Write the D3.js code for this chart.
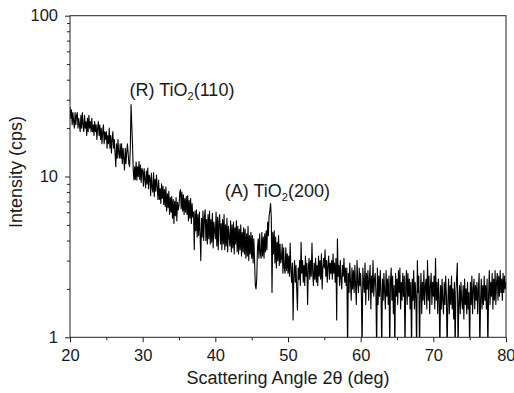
<!DOCTYPE html>
<html>
<head>
<meta charset="utf-8">
<script src="https://cdnjs.cloudflare.com/ajax/libs/d3/7.8.5/d3.min.js"></script>
<style>
  body { margin: 0; background: #fff; }
  text { font-family: "Liberation Sans", Arial, sans-serif; fill: #1a1a1a; }
</style>
</head>
<body>
<div id="chart"></div>
<script>
// sampling grid of the scan (deg)
const startAngle = 20;
const stepAngle = 0.1;

// intensity (cps), one row per degree
const intensityRows = [
  [27, 23, 26, 21, 25, 22, 20, 25, 21, 24],                // 20
  [25, 20, 23, 21, 19, 24, 20, 25, 21, 19],                // 21
  [24, 20, 22, 18, 23, 19, 24, 20, 22, 19],                // 22
  [23, 19, 21, 18, 22, 19, 21, 17, 20, 22],                // 23
  [18, 21, 17, 20, 16, 19, 21, 16, 19, 17],                // 24
  [19, 15, 18, 16, 20, 15, 18, 14, 17, 19],                // 25
  [15, 17, 14, 11.5, 16, 13, 17, 14, 13, 16],              // 26
  [13, 16, 12, 15, 13, 11, 15, 12, 14, 16],                // 27
  [14, 12, 11.5, 15, 28, 21, 16, 11, 9.5, 11.5],           // 28  rutile (110)
  [9.6, 12.3, 9.5, 11.5, 10, 12.4, 9.6, 11.8, 9.2, 11.2],  // 29
  [10.8, 8.7, 11.2, 9.6, 8.5, 10.8, 9, 11.3, 8.4, 10.2],   // 30
  [9.8, 7.6, 10.5, 8.5, 8, 10.6, 7.5, 9.6, 8.1, 10.2],     // 31
  [8.8, 7.2, 9.5, 7.2, 8.4, 6.8, 9, 7.3, 8.7, 6.7],        // 32
  [8.3, 6.5, 8.6, 6.1, 7.8, 6.4, 8.1, 5.8, 7.4, 6],        // 33
  [7.5, 5.5, 7.2, 5.1, 7, 5.7, 7.4, 5.3, 6.9, 6.2],        // 34
  [6.6, 7.9, 8.3, 6.3, 8, 6.1, 7.7, 5.8, 7.3, 6],          // 35
  [7.5, 5.8, 7.6, 5.3, 7.1, 5.5, 7.3, 5.1, 6.8, 5.6],      // 36
  [6, 3.5, 6.1, 4.6, 6.2, 4.2, 5.8, 4.3, 6, 4.4],          // 37
  [3.0, 5.5, 4.2, 6.1, 4, 5.6, 6.2, 4, 5.4, 3.8],          // 38
  [5.8, 4.1, 6.1, 3.8, 5.4, 3.9, 5.9, 3.6, 5.2, 4.6],      // 39
  [4.1, 6, 3.7, 5.6, 3.5, 5.3, 5.8, 3.8, 5.1, 3.5],        // 40
  [5.4, 3.8, 5.8, 3.5, 5, 3.7, 5.5, 3.4, 4.9, 4.2],        // 41
  [3.7, 5.3, 3.4, 5, 3.6, 5.2, 3.3, 4.8, 3.8, 5.3],        // 42
  [3.4, 4.9, 3.3, 4.7, 3.5, 5, 3.2, 4.5, 3.4, 4.8],        // 43
  [3.3, 4.7, 3.1, 4.4, 3.2, 4.9, 3, 4.3, 3.3, 4.5],        // 44
  [3.1, 4.3, 2.9, 4.1, 3.0, 2.1, 2.0, 2.3, 3.6, 4.1],      // 45
  [3.1, 4.4, 3.3, 3.1, 4.5, 3.2, 4.2, 3.1, 4.4, 3.4],      // 46
  [4.6, 3.5, 5.2, 4.3, 5.7, 6.1, 6.8, 5.6, 1.9, 4.5],      // 47  anatase (200)
  [3.3, 4.6, 2.9, 4.2, 2.7, 3.9, 3, 4.3, 2.8, 3.8],        // 48
  [2.9, 3.1, 3.8, 2.5, 3.6, 2.7, 2.5, 3.6, 2.6, 3.3],      // 49
  [2.5, 3.2, 2.4, 3.85, 2.6, 2.2, 2.9, 1.28, 2.4, 3.0],    // 50
  [2.2, 2.8, 2.0, 1.48, 2.7, 2.3, 3.0, 2.1, 3.9, 2.5],     // 51
  [3.0, 2.2, 2.8, 2.1, 3.2, 2.4, 2.9, 1.6, 2.7, 3.1],      // 52
  [2.3, 3.0, 2.4, 3.85, 2.5, 2.1, 2.9, 2.3, 3.1, 2.2],     // 53
  [2.8, 2.1, 3.2, 2.4, 3.0, 2.3, 3.3, 2.0, 2.7, 3.1],      // 54
  [2.7, 3.5, 2.4, 3.0, 2.2, 2.8, 3.2, 2.3, 2.9, 2.5],      // 55
  [3.0, 2.3, 3.3, 2.5, 2.9, 2.2, 3.1, 1.28, 4.1, 2.4],     // 56
  [2.8, 2.1, 3.0, 2.3, 2.0, 2.8, 2.4, 3.1, 2.2, 2.7],      // 57
  [2.1, 2.7, 0.8, 2.5, 1.9, 2.9, 2.2, 1.7, 2.7, 2.0],      // 58
  [2.6, 1.9, 2.8, 2.1, 1.6, 3.0, 2.2, 1.9, 2.7, 2.1],      // 59
  [2.5, 1.8, 0.8, 2.7, 2.2, 1.9, 2.9, 1.6, 2.5, 2.0],      // 60
  [2.6, 1.7, 2.3, 2.8, 1.5, 2.4, 1.9, 3.0, 1.8, 2.3],      // 61
  [2.5, 1.9, 0.8, 2.7, 1.6, 2.4, 1.8, 2.6, 1.9, 0.8],      // 62
  [2.3, 1.7, 2.5, 1.9, 1.5, 2.6, 1.8, 2.3, 1.6, 2.4],      // 63
  [0.8, 2.2, 2.7, 1.7, 2.4, 1.4, 2.1, 0.8, 2.5, 1.8],      // 64
  [2.3, 1.6, 2.6, 1.9, 2.7, 1.5, 2.2, 1.7, 2.5, 1.8],      // 65
  [2.4, 0.8, 2.1, 2.6, 1.6, 2.5, 1.8, 2.3, 1.5, 2.2],      // 66
  [0.8, 2.3, 1.7, 2.6, 1.5, 2.2, 1.8, 0.8, 3.0, 1.9],      // 67
  [2.4, 0.8, 1.8, 2.5, 1.4, 2.2, 1.7, 2.6, 1.6, 2.1],      // 68
  [2.3, 1.5, 3.0, 1.7, 2.4, 1.4, 2.1, 2.5, 1.6, 2.2],      // 69
  [1.8, 2.4, 1.5, 3.1, 1.7, 2.2, 1.4, 2.3, 1.8, 0.8],      // 70
  [2.1, 1.5, 2.3, 1.7, 1.4, 2.2, 1.6, 2.4, 1.8, 0.8],      // 71
  [1.7, 2.3, 1.4, 2.1, 1.6, 2.4, 1.5, 2.0, 1.3, 2.2],      // 72
  [0.8, 1.9, 2.3, 2.9, 0.8, 1.6, 2.1, 1.4, 2.2, 1.7],      // 73
  [1.5, 2.1, 1.3, 2.3, 1.6, 2.0, 1.4, 2.2, 1.5, 1.9],      // 74
  [0.8, 2.2, 1.6, 2.4, 1.4, 2.0, 2.3, 1.5, 2.1, 1.7],      // 75
  [2.2, 1.4, 2.0, 2.5, 0.8, 1.7, 2.3, 1.5, 2.1, 1.6],      // 76
  [2.4, 1.7, 2.1, 1.5, 2.3, 0.8, 1.8, 2.6, 1.6, 2.2],      // 77
  [1.8, 2.5, 1.5, 2.3, 1.7, 2.6, 1.6, 2.2, 2.5, 1.7],      // 78
  [2.4, 1.8, 2.6, 1.9, 2.3, 1.7, 2.5, 1.9, 2.4, 2.0],      // 79
  [2.2]                                                    // 80
];

const xTicks = [20, 30, 40, 50, 60, 70, 80];
const xMinorTicks = [25, 35, 45, 55, 65, 75];
const yTicks = [1, 10, 100];
const yMinorTicks = [2, 3, 4, 5, 6, 7, 8, 9, 20, 30, 40, 50, 60, 70, 80, 90];

// peak labels, anchored at their left baseline point (angle, intensity)
const peakLabels = [
  { angle: 28.2, value: 31.7, pre: "(R) TiO", sub: "2", post: "(110)" },
  { angle: 41.3, value: 7.45, pre: "(A) TiO", sub: "2", post: "(200)" }
];

const intensity = intensityRows.flat();
const data = intensity.map((v, i) => ({ angle: startAngle + i * stepAngle, value: v }));

const width = 514, height = 393;
const margin = { top: 15.7, right: 8, bottom: 55.7, left: 70 };

const svg = d3.select("#chart").append("svg")
  .attr("width", width)
  .attr("height", height);

const x = d3.scaleLinear().domain([20, 80]).range([margin.left, width - margin.right]);
const y = d3.scaleLog().domain([1, 100]).range([height - margin.bottom, margin.top]);

svg.append("defs").append("clipPath")
  .attr("id", "plot")
  .append("rect")
    .attr("x", margin.left)
    .attr("y", margin.top)
    .attr("width", x.range()[1] - margin.left)
    .attr("height", y.range()[0] - margin.top);

// the scan
const line = d3.line()
  .x(d => x(d.angle))
  .y(d => y(d.value));

svg.append("path")
  .datum(data)
  .attr("clip-path", "url(#plot)")
  .attr("fill", "none")
  .attr("stroke", "#000")
  .attr("stroke-width", 1.1)
  .attr("stroke-linejoin", "round")
  .attr("d", line);

// frame
svg.append("rect")
  .attr("x", margin.left)
  .attr("y", margin.top)
  .attr("width", x.range()[1] - margin.left)
  .attr("height", y.range()[0] - margin.top)
  .attr("fill", "none")
  .attr("stroke", "#222")
  .attr("stroke-width", 1);

// axes
const xAxis = svg.append("g")
  .attr("transform", `translate(0,${y.range()[0]})`)
  .call(d3.axisBottom(x).tickValues(xTicks).tickSize(5).tickPadding(7).tickFormat(d3.format("d")));

svg.append("g")
  .attr("transform", `translate(0,${y.range()[0]})`)
  .call(d3.axisBottom(x).tickValues(xMinorTicks).tickSize(3).tickFormat(""));

svg.append("g")
  .attr("transform", `translate(${margin.left},0)`)
  .call(d3.axisLeft(y).tickValues(yTicks).tickSize(5).tickPadding(7).tickFormat(d3.format("d")));

svg.append("g")
  .attr("transform", `translate(${margin.left},0)`)
  .call(d3.axisLeft(y).tickValues(yMinorTicks).tickSize(3).tickFormat(""));

svg.selectAll(".domain").remove();
svg.selectAll(".tick line").attr("stroke", "#222");
svg.selectAll(".tick text")
  .style("font-family", '"Liberation Sans", Arial, sans-serif')
  .style("font-size", "16.5px")
  .attr("fill", "#1a1a1a");

// last x label sits against the page edge, keep it inside
xAxis.selectAll(".tick text")
  .filter(d => d === 80)
  .attr("text-anchor", "end")
  .attr("dx", 9);

// axis titles
svg.append("text")
  .attr("x", (margin.left + x.range()[1]) / 2)
  .attr("y", 384)
  .attr("text-anchor", "middle")
  .style("font-size", "18px")
  .text("Scattering Angle 2θ (deg)");

svg.append("text")
  .attr("transform", `translate(22,172) rotate(-90)`)
  .attr("text-anchor", "middle")
  .style("font-size", "18px")
  .text("Intensity (cps)");

// peak labels
peakLabels.forEach(p => {
  const t = svg.append("text")
    .attr("x", x(p.angle))
    .attr("y", y(p.value))
    .style("font-size", "18px");
  t.append("tspan").text(p.pre);
  t.append("tspan").attr("dy", 4).style("font-size", "11px").text(p.sub);
  t.append("tspan").attr("dy", -4).text(p.post);
});
</script>
</body>
</html>
